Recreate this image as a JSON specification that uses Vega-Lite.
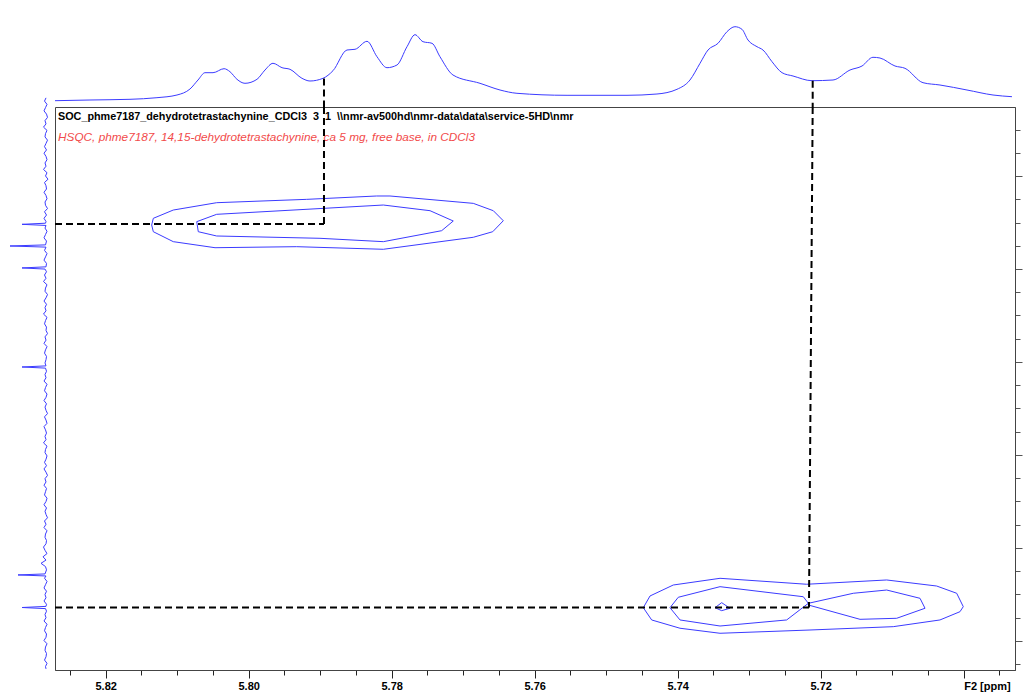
{
  "$schema": "https://vega.github.io/schema/vega-lite/v6.json",
  "padding": {"left": 0, "top": 20, "right": 0, "bottom": 0},
  "background": "white",
  "config": {"view": {"stroke": null}},
  "datasets": {
    "top": [
      {"f2": 5.82709, "i": 6.3}, {"f2": 5.8222, "i": 7}, {"f2": 5.8166, "i": 7.7}, {"f2": 5.81283, "i": 9.3},
      {"f2": 5.81003, "i": 12}, {"f2": 5.80821, "i": 18}, {"f2": 5.80709, "i": 27}, {"f2": 5.80611, "i": 34.3},
      {"f2": 5.80499, "i": 34.3}, {"f2": 5.80345, "i": 38.3}, {"f2": 5.80262, "i": 35.3}, {"f2": 5.80164, "i": 27.7},
      {"f2": 5.80052, "i": 23.7}, {"f2": 5.79884, "i": 27.7}, {"f2": 5.79772, "i": 37}, {"f2": 5.7966, "i": 43.7},
      {"f2": 5.79534, "i": 39.3}, {"f2": 5.79422, "i": 37.7}, {"f2": 5.79255, "i": 28.7}, {"f2": 5.79143, "i": 26},
      {"f2": 5.78961, "i": 28.7}, {"f2": 5.78821, "i": 36.3}, {"f2": 5.78625, "i": 57}, {"f2": 5.78513, "i": 57.7},
      {"f2": 5.78345, "i": 65.7}, {"f2": 5.78206, "i": 50.3}, {"f2": 5.78066, "i": 39.3}, {"f2": 5.77926, "i": 42},
      {"f2": 5.77786, "i": 60.3}, {"f2": 5.77674, "i": 72.3}, {"f2": 5.77562, "i": 65.3}, {"f2": 5.77436, "i": 63.7},
      {"f2": 5.77325, "i": 50.3}, {"f2": 5.77143, "i": 32}, {"f2": 5.76765, "i": 23.7}, {"f2": 5.76485, "i": 17},
      {"f2": 5.76248, "i": 13.7}, {"f2": 5.75548, "i": 11.7}, {"f2": 5.74709, "i": 11.7}, {"f2": 5.7429, "i": 13},
      {"f2": 5.7401, "i": 17.7}, {"f2": 5.73828, "i": 27}, {"f2": 5.73688, "i": 43.7}, {"f2": 5.73576, "i": 57},
      {"f2": 5.73436, "i": 63.7}, {"f2": 5.73311, "i": 75.3}, {"f2": 5.73199, "i": 80.3}, {"f2": 5.73101, "i": 77.7},
      {"f2": 5.73017, "i": 67}, {"f2": 5.72891, "i": 60.3}, {"f2": 5.72807, "i": 57}, {"f2": 5.72681, "i": 45.3},
      {"f2": 5.72541, "i": 34.3}, {"f2": 5.72387, "i": 31}, {"f2": 5.72122, "i": 26.3}, {"f2": 5.71828, "i": 27},
      {"f2": 5.7159, "i": 37}, {"f2": 5.71422, "i": 41}, {"f2": 5.71269, "i": 49.7}, {"f2": 5.71171, "i": 49},
      {"f2": 5.70961, "i": 41}, {"f2": 5.70821, "i": 38.7}, {"f2": 5.70569, "i": 24.3}, {"f2": 5.70332, "i": 22},
      {"f2": 5.69954, "i": 17}, {"f2": 5.6959, "i": 12}, {"f2": 5.69325, "i": 10.3}
    ],
    "left": [
      {"f1": 126.16, "i": 4}, {"f1": 126.195, "i": 5.5}, {"f1": 126.23, "i": 3}, {"f1": 126.265, "i": 4.5},
      {"f1": 126.3, "i": 6}, {"f1": 126.335, "i": 3.5}, {"f1": 126.37, "i": 2.5}, {"f1": 126.405, "i": 5},
      {"f1": 126.44, "i": 4}, {"f1": 126.475, "i": 6.5}, {"f1": 126.51, "i": 3}, {"f1": 126.545, "i": 4.5},
      {"f1": 126.58, "i": 5}, {"f1": 126.615, "i": 2.5}, {"f1": 126.65, "i": 4}, {"f1": 126.685, "i": 5.5},
      {"f1": 126.72, "i": 3.5}, {"f1": 126.755, "i": 6}, {"f1": 126.79, "i": 4}, {"f1": 126.825, "i": 3},
      {"f1": 126.86, "i": 5}, {"f1": 126.895, "i": 4}, {"f1": 126.93, "i": 6.5}, {"f1": 126.965, "i": 3},
      {"f1": 127.0, "i": 4.5}, {"f1": 127.035, "i": 2}, {"f1": 127.07, "i": 5.5}, {"f1": 127.105, "i": 4},
      {"f1": 127.14, "i": 3.5}, {"f1": 127.175, "i": 6}, {"f1": 127.21, "i": 4}, {"f1": 127.245, "i": 3},
      {"f1": 127.28, "i": 5}, {"f1": 127.315, "i": 4.5}, {"f1": 127.35, "i": 2.5}, {"f1": 127.385, "i": 5.5},
      {"f1": 127.42, "i": 3.5}, {"f1": 127.455, "i": 6}, {"f1": 127.49, "i": 4},
      {"f1": 127.508, "i": 4.5}, {"f1": 127.52, "i": 28}, {"f1": 127.532, "i": 4},
      {"f1": 127.56, "i": 5}, {"f1": 127.595, "i": 3}, {"f1": 127.63, "i": 4.5}, {"f1": 127.665, "i": 6},
      {"f1": 127.7, "i": 3.5},
      {"f1": 127.741, "i": 4.5}, {"f1": 127.753, "i": 40}, {"f1": 127.765, "i": 4},
      {"f1": 127.8, "i": 5.5}, {"f1": 127.835, "i": 3}, {"f1": 127.87, "i": 4.5}, {"f1": 127.905, "i": 6},
      {"f1": 127.94, "i": 3.5},
      {"f1": 127.977, "i": 4}, {"f1": 127.989, "i": 28}, {"f1": 128.001, "i": 5},
      {"f1": 128.03, "i": 3.5}, {"f1": 128.065, "i": 5.5}, {"f1": 128.1, "i": 4}, {"f1": 128.135, "i": 6.5},
      {"f1": 128.17, "i": 3}, {"f1": 128.205, "i": 4.5}, {"f1": 128.24, "i": 5}, {"f1": 128.275, "i": 2.5},
      {"f1": 128.31, "i": 4}, {"f1": 128.345, "i": 6}, {"f1": 128.38, "i": 3.5}, {"f1": 128.415, "i": 5},
      {"f1": 128.45, "i": 4}, {"f1": 128.485, "i": 6.5}, {"f1": 128.52, "i": 3}, {"f1": 128.555, "i": 4.5},
      {"f1": 128.59, "i": 5.5}, {"f1": 128.625, "i": 3.5}, {"f1": 128.66, "i": 4}, {"f1": 128.695, "i": 2.5},
      {"f1": 128.73, "i": 5}, {"f1": 128.765, "i": 4}, {"f1": 128.8, "i": 6}, {"f1": 128.835, "i": 3},
      {"f1": 128.87, "i": 4.5}, {"f1": 128.905, "i": 5.5}, {"f1": 128.94, "i": 3.5}, {"f1": 128.975, "i": 4},
      {"f1": 129.01, "i": 5},
      {"f1": 129.042, "i": 4}, {"f1": 129.054, "i": 28}, {"f1": 129.066, "i": 4.5},
      {"f1": 129.1, "i": 3.5}, {"f1": 129.135, "i": 5}, {"f1": 129.17, "i": 4}, {"f1": 129.205, "i": 6},
      {"f1": 129.24, "i": 3}, {"f1": 129.275, "i": 4.5}, {"f1": 129.31, "i": 5.5}, {"f1": 129.345, "i": 3},
      {"f1": 129.38, "i": 4}, {"f1": 129.415, "i": 6}, {"f1": 129.45, "i": 3.5}, {"f1": 129.485, "i": 5},
      {"f1": 129.52, "i": 4}, {"f1": 129.555, "i": 2.5}, {"f1": 129.59, "i": 5.5}, {"f1": 129.625, "i": 4},
      {"f1": 129.66, "i": 3}, {"f1": 129.695, "i": 6}, {"f1": 129.73, "i": 4.5}, {"f1": 129.765, "i": 3.5},
      {"f1": 129.8, "i": 5}, {"f1": 129.835, "i": 4}, {"f1": 129.87, "i": 6.5}, {"f1": 129.905, "i": 3},
      {"f1": 129.94, "i": 4.5}, {"f1": 129.975, "i": 5}, {"f1": 130.01, "i": 3}, {"f1": 130.045, "i": 4},
      {"f1": 130.08, "i": 5.5}, {"f1": 130.115, "i": 3.5}, {"f1": 130.15, "i": 6}, {"f1": 130.185, "i": 4},
      {"f1": 130.22, "i": 2.5}, {"f1": 130.255, "i": 5}, {"f1": 130.29, "i": 4}, {"f1": 130.325, "i": 6},
      {"f1": 130.36, "i": 3.5}, {"f1": 130.395, "i": 4.5}, {"f1": 130.43, "i": 5.5}, {"f1": 130.465, "i": 3},
      {"f1": 130.5, "i": 4}, {"f1": 130.535, "i": 6}, {"f1": 130.57, "i": 3.5}, {"f1": 130.605, "i": 5},
      {"f1": 130.64, "i": 4}, {"f1": 130.675, "i": 2.5}, {"f1": 130.71, "i": 5.5}, {"f1": 130.745, "i": 4},
      {"f1": 130.78, "i": 6}, {"f1": 130.815, "i": 3}, {"f1": 130.85, "i": 4.5}, {"f1": 130.885, "i": 5},
      {"f1": 130.92, "i": 3.5}, {"f1": 130.955, "i": 4}, {"f1": 130.99, "i": 6.5}, {"f1": 131.025, "i": 5},
      {"f1": 131.06, "i": 3}, {"f1": 131.095, "i": 7}, {"f1": 131.13, "i": 4}, {"f1": 131.165, "i": 9},
      {"f1": 131.2, "i": 4.5}, {"f1": 131.235, "i": 3.5},
      {"f1": 131.279, "i": 5}, {"f1": 131.29, "i": 32}, {"f1": 131.301, "i": 4},
      {"f1": 131.325, "i": 5.5}, {"f1": 131.36, "i": 3}, {"f1": 131.395, "i": 4.5}, {"f1": 131.43, "i": 6},
      {"f1": 131.465, "i": 3.5}, {"f1": 131.5, "i": 5}, {"f1": 131.535, "i": 4}, {"f1": 131.57, "i": 6},
      {"f1": 131.605, "i": 3.5},
      {"f1": 131.628, "i": 4}, {"f1": 131.64, "i": 28}, {"f1": 131.652, "i": 4.5},
      {"f1": 131.68, "i": 3.5}, {"f1": 131.715, "i": 5}, {"f1": 131.75, "i": 4}, {"f1": 131.785, "i": 6},
      {"f1": 131.82, "i": 3}, {"f1": 131.855, "i": 4.5}, {"f1": 131.89, "i": 5.5}, {"f1": 131.925, "i": 3.5},
      {"f1": 131.96, "i": 4}, {"f1": 131.995, "i": 6}, {"f1": 132.03, "i": 3}, {"f1": 132.065, "i": 4.5},
      {"f1": 132.1, "i": 5}, {"f1": 132.135, "i": 3.5}, {"f1": 132.17, "i": 4}, {"f1": 132.205, "i": 5.5},
      {"f1": 132.24, "i": 3}, {"f1": 132.275, "i": 4.5}, {"f1": 132.3, "i": 4}
    ],
    "contours": [
      {"ring": "A1", "pt": 1, "f2": 5.81357, "f1": 127.527}, {"ring": "A1", "pt": 2, "f2": 5.81334, "f1": 127.455},
      {"ring": "A1", "pt": 3, "f2": 5.81055, "f1": 127.366}, {"ring": "A1", "pt": 4, "f2": 5.80448, "f1": 127.287},
      {"ring": "A1", "pt": 5, "f2": 5.79189, "f1": 127.251}, {"ring": "A1", "pt": 6, "f2": 5.7821, "f1": 127.215},
      {"ring": "A1", "pt": 7, "f2": 5.78024, "f1": 127.215}, {"ring": "A1", "pt": 8, "f2": 5.76859, "f1": 127.294},
      {"ring": "A1", "pt": 9, "f2": 5.76579, "f1": 127.373}, {"ring": "A1", "pt": 10, "f2": 5.76439, "f1": 127.481},
      {"ring": "A1", "pt": 11, "f2": 5.76587, "f1": 127.599}, {"ring": "A1", "pt": 12, "f2": 5.76859, "f1": 127.659},
      {"ring": "A1", "pt": 13, "f2": 5.78117, "f1": 127.788}, {"ring": "A1", "pt": 14, "f2": 5.79329, "f1": 127.76},
      {"ring": "A1", "pt": 15, "f2": 5.80471, "f1": 127.771}, {"ring": "A1", "pt": 16, "f2": 5.81055, "f1": 127.706},
      {"ring": "A1", "pt": 17, "f2": 5.81334, "f1": 127.599}, {"ring": "A1", "pt": 18, "f2": 5.81357, "f1": 127.527},
      {"ring": "A2", "pt": 1, "f2": 5.80727, "f1": 127.491}, {"ring": "A2", "pt": 2, "f2": 5.80448, "f1": 127.412},
      {"ring": "A2", "pt": 3, "f2": 5.78117, "f1": 127.312}, {"ring": "A2", "pt": 4, "f2": 5.77464, "f1": 127.373},
      {"ring": "A2", "pt": 5, "f2": 5.77139, "f1": 127.484}, {"ring": "A2", "pt": 6, "f2": 5.77301, "f1": 127.588},
      {"ring": "A2", "pt": 7, "f2": 5.78117, "f1": 127.706}, {"ring": "A2", "pt": 8, "f2": 5.79003, "f1": 127.67},
      {"ring": "A2", "pt": 9, "f2": 5.80448, "f1": 127.645}, {"ring": "A2", "pt": 10, "f2": 5.80705, "f1": 127.599},
      {"ring": "A2", "pt": 11, "f2": 5.80727, "f1": 127.491},
      {"ring": "B1", "pt": 1, "f2": 5.74481, "f1": 131.642}, {"ring": "B1", "pt": 2, "f2": 5.74387, "f1": 131.516},
      {"ring": "B1", "pt": 3, "f2": 5.74062, "f1": 131.398}, {"ring": "B1", "pt": 4, "f2": 5.73408, "f1": 131.326},
      {"ring": "B1", "pt": 5, "f2": 5.72196, "f1": 131.39}, {"ring": "B1", "pt": 6, "f2": 5.71077, "f1": 131.344},
      {"ring": "B1", "pt": 7, "f2": 5.70378, "f1": 131.409}, {"ring": "B1", "pt": 8, "f2": 5.70098, "f1": 131.487},
      {"ring": "B1", "pt": 9, "f2": 5.70006, "f1": 131.631}, {"ring": "B1", "pt": 10, "f2": 5.70052, "f1": 131.685},
      {"ring": "B1", "pt": 11, "f2": 5.70332, "f1": 131.774}, {"ring": "B1", "pt": 12, "f2": 5.70985, "f1": 131.846},
      {"ring": "B1", "pt": 13, "f2": 5.7215, "f1": 131.882}, {"ring": "B1", "pt": 14, "f2": 5.73408, "f1": 131.917},
      {"ring": "B1", "pt": 15, "f2": 5.73968, "f1": 131.863}, {"ring": "B1", "pt": 16, "f2": 5.74364, "f1": 131.774},
      {"ring": "B1", "pt": 17, "f2": 5.74481, "f1": 131.642},
      {"ring": "B2", "pt": 1, "f2": 5.74108, "f1": 131.642}, {"ring": "B2", "pt": 2, "f2": 5.73992, "f1": 131.53},
      {"ring": "B2", "pt": 3, "f2": 5.73408, "f1": 131.416}, {"ring": "B2", "pt": 4, "f2": 5.72243, "f1": 131.524},
      {"ring": "B2", "pt": 5, "f2": 5.72173, "f1": 131.595}, {"ring": "B2", "pt": 6, "f2": 5.72476, "f1": 131.774},
      {"ring": "B2", "pt": 7, "f2": 5.73408, "f1": 131.839}, {"ring": "B2", "pt": 8, "f2": 5.73968, "f1": 131.774},
      {"ring": "B2", "pt": 9, "f2": 5.74108, "f1": 131.642},
      {"ring": "B3", "pt": 1, "f2": 5.72173, "f1": 131.595}, {"ring": "B3", "pt": 2, "f2": 5.71544, "f1": 131.487},
      {"ring": "B3", "pt": 3, "f2": 5.71077, "f1": 131.452}, {"ring": "B3", "pt": 4, "f2": 5.70611, "f1": 131.541},
      {"ring": "B3", "pt": 5, "f2": 5.70541, "f1": 131.648}, {"ring": "B3", "pt": 6, "f2": 5.70937, "f1": 131.756},
      {"ring": "B3", "pt": 7, "f2": 5.7145, "f1": 131.767}, {"ring": "B3", "pt": 8, "f2": 5.72173, "f1": 131.613},
      {"ring": "B3", "pt": 9, "f2": 5.72173, "f1": 131.595},
      {"ring": "B4", "pt": 1, "f2": 5.73478, "f1": 131.642}, {"ring": "B4", "pt": 2, "f2": 5.73385, "f1": 131.588},
      {"ring": "B4", "pt": 3, "f2": 5.73269, "f1": 131.648}, {"ring": "B4", "pt": 4, "f2": 5.73385, "f1": 131.674},
      {"ring": "B4", "pt": 5, "f2": 5.73478, "f1": 131.642}
    ]
  },
  "spacing": 5,
  "bounds": "flush",
  "resolve": {"scale": {"x": "independent", "y": "independent"}},
  "hconcat": [
    {
      "width": 50,
      "height": 650,
      "data": {"name": "left"},
      "mark": {"type": "line", "color": "#3b3bff", "strokeWidth": 1, "strokeJoin": "round"},
      "encoding": {
        "x": {"field": "i", "type": "quantitative", "scale": {"domain": [0, 50], "reverse": true, "nice": false, "zero": false}, "axis": null},
        "y": {"field": "f1", "type": "quantitative", "scale": {"domain": [125.323, 132.312], "reverse": true, "nice": false, "zero": false}, "axis": null},
        "order": {"field": "f1", "type": "quantitative"}
      }
    },
    {
      "spacing": 0,
      "bounds": "flush",
      "resolve": {"scale": {"x": "independent", "y": "independent"}},
      "vconcat": [
        {
          "width": 960,
          "height": 87,
          "encoding": {
            "x": {"field": "f2", "type": "quantitative", "scale": {"domain": [5.692825, 5.827091], "reverse": true, "nice": false, "zero": false}, "axis": null},
            "y": {"field": "i", "type": "quantitative", "scale": {"domain": [0, 87], "nice": false, "zero": false}, "axis": null}
          },
          "layer": [
            {
              "data": {"name": "top"},
              "mark": {"type": "line", "color": "#3b3bff", "strokeWidth": 1, "strokeJoin": "round", "interpolate": "monotone"}
            },
            {
              "data": {"values": [{"f2": 5.78947, "i": 28.5}, {"f2": 5.72112, "i": 26.3}]},
              "mark": {"type": "rule", "color": "black", "strokeWidth": 2, "strokeDash": [7, 4]},
              "encoding": {"y2": {"datum": 0}}
            }
          ]
        },
        {
          "width": 960,
          "height": 563,
          "view": {"stroke": "#444444", "strokeWidth": 1},
          "encoding": {
            "x": {
              "field": "f2", "type": "quantitative",
              "scale": {"domain": [5.692825, 5.827091], "reverse": true, "nice": false, "zero": false},
              "axis": {
                "orient": "bottom", "title": null, "grid": false,
                "values": [5.825, 5.82, 5.815, 5.81, 5.805, 5.8, 5.795, 5.79, 5.785, 5.78, 5.775, 5.77, 5.765, 5.76, 5.755, 5.75, 5.745, 5.74, 5.735, 5.73, 5.725, 5.72, 5.715, 5.71, 5.705, 5.7, 5.695],
                "labelExpr": "abs(datum.value - 5.7) < 0.0001 ? 'F2 [ppm]' : (abs(round(datum.value * 50) - datum.value * 50) < 0.001 ? format(datum.value, '.2f') : '')",
                "tickSize": {"condition": {"test": "abs(round(datum.value * 50) - datum.value * 50) < 0.001", "value": 8}, "value": 5},
                "labelAlign": {"condition": {"test": "abs(datum.value - 5.7) < 0.0001", "value": "left"}, "value": "center"},
                "labelFont": "Liberation Sans", "labelFontSize": 11, "labelFontWeight": "bold", "labelColor": "black",
                "labelPadding": 2, "labelOverlap": false, "labelBound": false, "labelFlush": false,
                "tickColor": "#222222", "domainColor": "#444444"
              }
            },
            "y": {
              "field": "f1", "type": "quantitative",
              "scale": {"domain": [126.258, 132.312], "reverse": true, "nice": false, "zero": false},
              "axis": {
                "orient": "right", "title": null, "grid": false, "labels": false,
                "values": [126.5, 126.75, 127, 127.25, 127.5, 127.75, 128, 128.25, 128.5, 128.75, 129, 129.25, 129.5, 129.75, 130, 130.25, 130.5, 130.75, 131, 131.25, 131.5, 131.75, 132, 132.25],
                "tickSize": {"condition": {"test": "datum.value % 1 === 0", "value": 7}, "value": 5},
                "tickColor": "#555555", "domainColor": "#444444"
              }
            }
          },
          "layer": [
            {
              "data": {"values": [{"f2": 5.82667, "f1": 126.369, "t": "SOC_phme7187_dehydrotetrastachynine_CDCl3\u00a0\u00a03\u00a0\u00a01\u00a0\u00a0\\\\nmr-av500hd\\nmr-data\\data\\service-5HD\\nmr"}]},
              "mark": {"type": "text", "align": "left", "baseline": "middle", "font": "Liberation Sans", "fontSize": 10.8, "fontWeight": "bold", "color": "black"},
              "encoding": {"text": {"field": "t"}}
            },
            {
              "data": {"values": [{"f2": 5.82667, "f1": 126.577, "t": "HSQC, phme7187, 14,15-dehydrotetrastachynine, ca 5 mg, free base, in CDCl3"}]},
              "mark": {"type": "text", "align": "left", "baseline": "middle", "font": "Liberation Sans", "fontSize": 11.8, "fontStyle": "italic", "color": "#f24a4a"},
              "encoding": {"text": {"field": "t"}}
            },
            {
              "data": {"name": "contours"},
              "mark": {"type": "line", "color": "#3b3bff", "strokeWidth": 1},
              "encoding": {"detail": {"field": "ring"}, "order": {"field": "pt", "type": "quantitative"}}
            },
            {
              "data": {"values": [
                {"f2": 5.827091, "f1": 127.516, "f2b": 5.78947, "f1b": 127.516},
                {"f2": 5.78947, "f1": 126.258, "f2b": 5.78947, "f1b": 127.516},
                {"f2": 5.827091, "f1": 131.64, "f2b": 5.72164, "f1b": 131.64},
                {"f2": 5.72112, "f1": 126.258, "f2b": 5.72164, "f1b": 131.64}
              ]},
              "mark": {"type": "rule", "color": "black", "strokeWidth": 2, "strokeDash": [7, 4]},
              "encoding": {"x2": {"field": "f2b"}, "y2": {"field": "f1b"}}
            }
          ]
        }
      ]
    }
  ]
}
